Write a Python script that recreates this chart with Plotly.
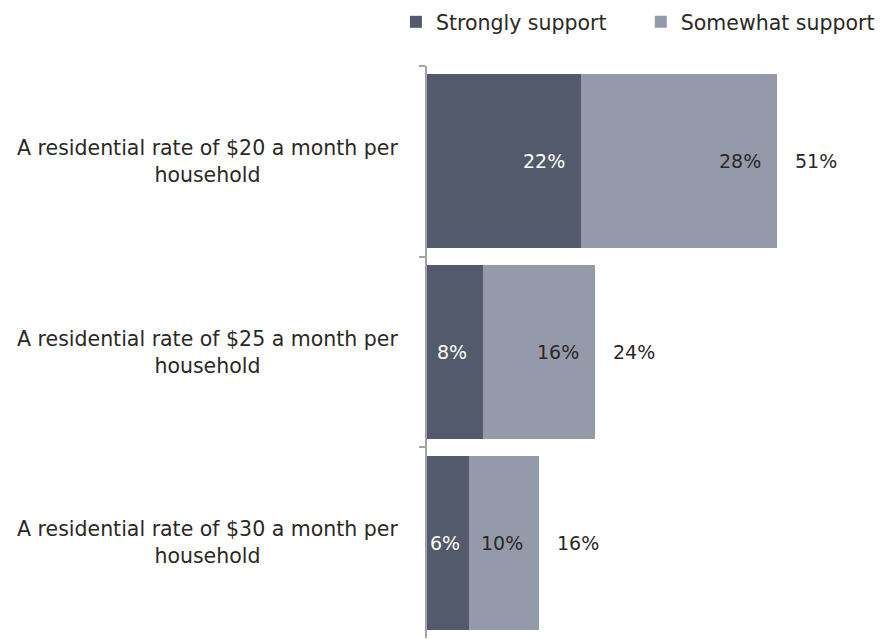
import plotly.graph_objects as go

# Survey results: support for proposed residential rates
categories = [
    "A residential rate of $20 a month per<br>household",
    "A residential rate of $25 a month per<br>household",
    "A residential rate of $30 a month per<br>household",
]
strongly_support = [22, 8, 6]
somewhat_support = [28, 16, 10]
total_support = [51, 24, 16]
series_names = ["Strongly support", "Somewhat support"]

DARK = "#535a6b"
LIGHT = "#959aaa"
TEXT = "#2b2926"
FONT = "DejaVu Sans"
CAT_SIZE = 20.5
NUM_SIZE = 19
LEG_SIZE = 20.5

W, H = 881, 639
ML, MR, MT, MB = 427, 10, 66, 1
X_MAX = 63.5
px_per_unit = (W - ML - MR) / X_MAX

fig = go.Figure()
fig.add_trace(go.Bar(
    y=categories, x=strongly_support, name=series_names[0], orientation="h",
    marker=dict(color=DARK, line=dict(width=0)), legend="legend",
))
fig.add_trace(go.Bar(
    y=categories, x=somewhat_support, name=series_names[1], orientation="h",
    marker=dict(color=LIGHT, line=dict(width=0)), legend="legend2",
))

annotations = []
for i, cat in enumerate(categories):
    # segment labels, placed toward the inner end of each segment
    start = 0
    for val, color in ((strongly_support[i], "white"), (somewhat_support[i], TEXT)):
        end = start + val
        label = f"{val}%"
        seg_px = val * px_per_unit
        text_px = 0.62 * NUM_SIZE * len(label)
        if seg_px >= text_px + 20:
            annotations.append(dict(x=end, y=cat, xref="x", yref="y", text=label,
                                    showarrow=False, xanchor="right", xshift=-14,
                                    font=dict(color=color, size=NUM_SIZE, family=FONT)))
        else:
            annotations.append(dict(x=start + val / 2, y=cat, xref="x", yref="y", text=label,
                                    showarrow=False, xanchor="center", xshift=-3,
                                    font=dict(color=color, size=NUM_SIZE, family=FONT)))
        start = end
    # total label after the bar
    annotations.append(dict(x=start, y=cat, xref="x", yref="y", text=f"{total_support[i]}%",
                            showarrow=False, xanchor="left", xshift=16,
                            font=dict(color=TEXT, size=NUM_SIZE, family=FONT)))
    # category label, centred in the left margin
    annotations.append(dict(x=-0.495, y=cat, xref="paper", yref="y", text=cat,
                            showarrow=False, xanchor="center", align="center",
                            font=dict(color=TEXT, size=CAT_SIZE, family=FONT)))

legend_y = 1 + (MT - 22) / (H - MT - MB)
legend_style = dict(orientation="h", xanchor="left", y=legend_y, yanchor="middle",
                    font=dict(size=LEG_SIZE, family=FONT, color=TEXT), itemwidth=30)

fig.update_layout(
    width=W, height=H,
    margin=dict(l=ML, r=MR, t=MT, b=MB, autoexpand=False),
    barmode="stack",
    bargap=0.088,
    plot_bgcolor="white", paper_bgcolor="white",
    font=dict(family=FONT, size=NUM_SIZE, color=TEXT),
    showlegend=True,
    legend=dict(x=-0.07, **legend_style),
    legend2=dict(x=0.4815, **legend_style),
    xaxis=dict(range=[0, X_MAX], visible=False, fixedrange=True),
    yaxis=dict(
        range=[2.5, -0.5], showticklabels=False, showline=True, linecolor="#a3a3a3",
        linewidth=1.5, ticks="outside", tickson="boundaries", ticklen=6,
        tickcolor="#a3a3a3", tickwidth=1.5, showgrid=False, zeroline=False,
    ),
    annotations=annotations,
)

fig.write_html("out.html")
